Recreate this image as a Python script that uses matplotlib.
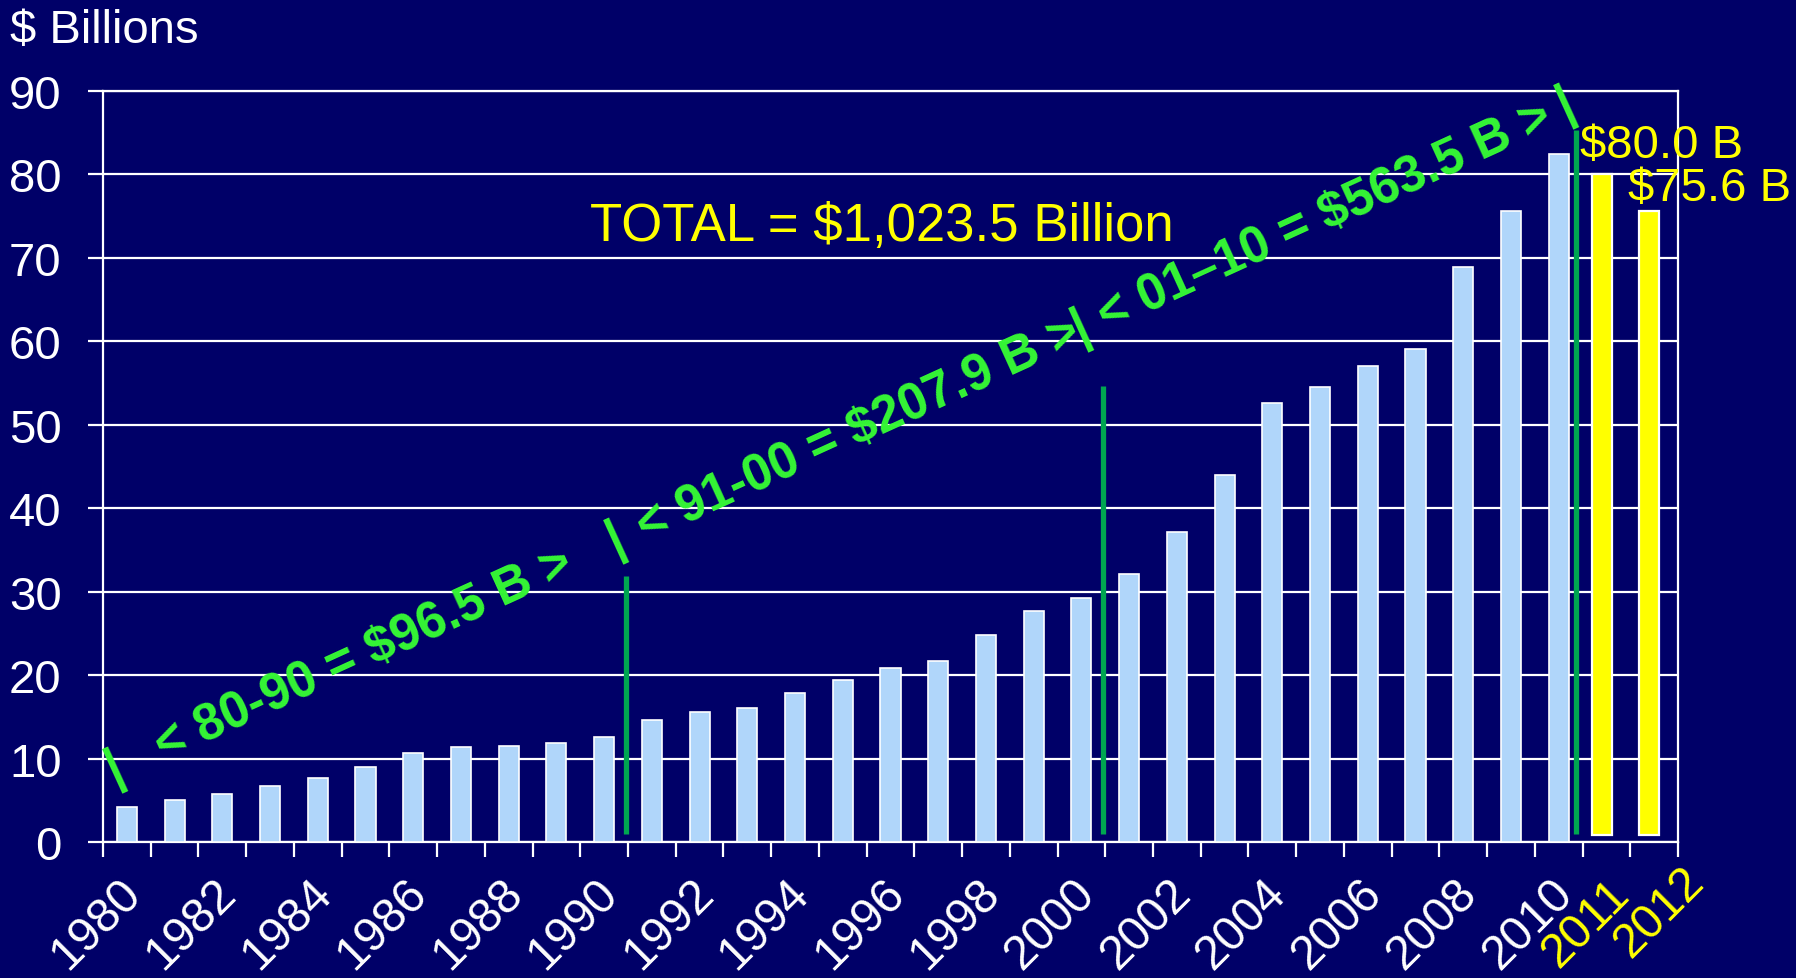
import numpy as np
import matplotlib
matplotlib.use('Agg')
import matplotlib.pyplot as plt
from matplotlib.transforms import ScaledTranslation

plt.rcParams['font.family'] = ['Liberation Sans', 'DejaVu Sans']

# data, $ billions per year
years = list(range(1980, 2013))
actual = [4.2, 5.0, 5.8, 6.7, 7.7, 9.0, 10.7, 11.4, 11.5, 11.9, 12.6,
          14.6, 15.6, 16.1, 17.9, 19.4, 20.8, 21.7, 24.8, 27.7, 29.3,
          32.1, 37.1, 44.0, 52.6, 54.5, 57.1, 59.1, 68.9, 75.6, 82.5]   # 1980-2010
projected = [80.0, 75.6]                                                 # 2011, 2012
label_years = list(range(1980, 2011, 2)) + [2011, 2012]
yticks = list(range(0, 91, 10))
decade_text = ['< 80-90 = $96.5 B >', '< 91-00 = $207.9 B >', '< 01\u201310 = $563.5 B >']

bg = '#000068'
blue = '#B0D6FA'
yellow = '#FFFF00'
green_txt = '#35F535'
green_line = '#00A651'

fig = plt.figure(figsize=(17.96, 9.79), dpi=100, facecolor=bg)
ax = fig.add_axes([103/1796, 136/979, 1575/1796, 751/979], facecolor=bg)

x_act = np.arange(len(actual))
x_proj = np.arange(len(actual), len(years)) - 0.1
ax.bar(x_act, actual, width=0.42, color=blue, edgecolor='white', linewidth=1.2, zorder=3)
ax.bar(x_proj, np.array(projected) - 0.8, bottom=0.8, width=0.42, color=yellow,
       edgecolor='white', linewidth=1.6, zorder=3)

ax.set_xlim(-0.5, len(years) - 0.5)
ax.set_ylim(0, 90)
ax.set_yticks(yticks)
ax.set_yticklabels([str(v) for v in yticks])
ax.yaxis.grid(True, color='white', linewidth=1.6)
ax.set_axisbelow(True)
for s in ax.spines.values():
    s.set_color('white')
    s.set_linewidth(1.6)

ax.tick_params(axis='y', colors='white', labelsize=34, length=10.8, width=1.6, pad=19)
idx = [years.index(y) for y in label_years]
ax.set_xticks(idx)
ax.set_xticklabels([str(y) for y in label_years], rotation=45, ha='right', va='top',
                   rotation_mode='anchor')
ax.set_xticks(np.arange(-0.5, len(years)), minor=True)
ax.tick_params(axis='x', which='major', length=0, labelsize=34.5, labelcolor='white', pad=20)
ax.tick_params(axis='x', which='minor', length=10.8, width=1.6, color='white')

for lab in ax.get_xticklabels():
    t = lab.get_text()
    dx, dy = -9, 0
    if t == '2011':
        lab.set_color(yellow)
        dx, dy = 0, -1
    elif t == '2012':
        lab.set_color(yellow)
        dx, dy = 27, 12
    lab.set_transform(lab.get_transform() + ScaledTranslation(dx/100, dy/100, fig.dpi_scale_trans))

# decade dividers
ax.vlines([10.46, 20.46, 30.36], 1.0, [31.9, 54.6, 85.3], color=green_line, linewidth=3.8, zorder=4)

# decade sums along a slanted line
ang = 24.5
for (x, y), s in zip([(5.09, 21.1), (15.46, 48.0), (25.21, 73.6)], decade_text):
    ax.text(x, y, s, color=green_txt, fontsize=36.5, fontweight='bold', rotation=ang,
            rotation_mode='anchor', ha='center', va='baseline', zorder=5)
for x, y in [(-0.27, 8.87), (10.24, 36.3), (19.97, 61.75), (30.15, 88.5)]:
    ax.text(x, y, '|', color=green_txt, fontsize=36.5, fontweight='bold', rotation=ang,
            rotation_mode='anchor', ha='center', va='center', zorder=5)

ax.text(9.7, 72.1, 'TOTAL = $1,023.5 Billion', color=yellow, fontsize=38, va='baseline', ha='left')
ax.text(30.44, 82.1, '$%.1f B' % projected[0], color=yellow, fontsize=34, va='baseline', ha='left')
ax.text(31.45, 76.9, '$%.1f B' % projected[1], color=yellow, fontsize=34, va='baseline', ha='left')

fig.text(10/1796, 1 - 43/979, '$ Billions', color='white', fontsize=34, va='baseline', ha='left')

fig.savefig('out.png', dpi=100, facecolor=bg)
